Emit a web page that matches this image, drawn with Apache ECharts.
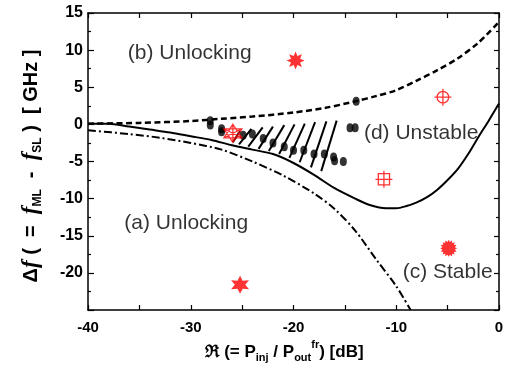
<!DOCTYPE html>
<html><head><meta charset="utf-8">
<script src="https://cdn.jsdelivr.net/npm/echarts@6/dist/echarts.min.js"></script>
<style>html,body{margin:0;padding:0;background:#fff}#c{width:509px;height:376px}</style>
</head><body><div id="c"></div>
<script>
// ---- data ----
const xTickValues = [-40, -30, -20, -10, 0];
const yTickValues = [-20, -15, -10, -5, 0, 5, 10, 15];

const dashedX = [-40, -35, -30, -27, -24, -20, -17, -14, -12, -10, -8, -6, -4, -2, 0];
const dashedY = [0.1, 0.2, 0.45, 0.75, 1.05, 1.6, 2.2, 3.1, 3.8, 4.6, 5.9, 7.3, 8.9, 11.0, 13.8];

const solidX = [-40, -38, -36, -34, -32, -30, -28, -26, -24, -22, -20, -18, -16, -14, -12.5, -11, -10, -9, -8, -7, -6, -5, -4, -3, -2, -1, 0];
const solidY = [0.1, 0.1, -0.3, -0.7, -1.1, -1.6, -2.1, -2.8, -3.4, -4.0, -5.2, -6.8, -8.6, -10.0, -10.9, -11.3, -11.3, -11.0, -10.5, -9.8, -8.8, -7.5, -6.0, -4.0, -1.7, 0.5, 2.8];

const dashDotX = [-40, -36, -33, -30, -27, -24, -21, -18, -16, -14, -12, -10, -8.6];
const dashDotY = [-0.8, -1.3, -1.8, -2.5, -3.4, -5.0, -6.9, -9.3, -11.4, -14.3, -18.1, -21.8, -25];

const dotX = [-28.1, -28.1, -27.0, -27.0, -24.9, -24.0, -22.95, -22.0, -20.9, -20.0, -19.0, -18.0, -17.0, -16.1, -16.0, -15.15, -14.5, -14.0, -13.9];
const dotY = [0.5, -0.1, -0.6, -1.0, -1.45, -1.3, -1.9, -2.5, -3.0, -3.5, -3.5, -4.0, -4.0, -4.4, -4.9, -5.0, -0.45, -0.45, 3.1];

const hatchBottomX = [-25.9, -25.3, -24.4, -23.4, -22.4, -21.4, -20.4, -19.4, -18.3, -17.3];
const hatchBottomY = [-2.4, -2.7, -3.0, -3.3, -3.6, -4.0, -4.5, -5.1, -5.8, -6.3];
const hatchTopX = [-25.2, -24.1, -23.0, -22.0, -20.9, -19.9, -18.9, -17.9, -16.8, -15.8];
const hatchTopY = [-0.9, -0.6, -0.4, -0.3, -0.1, 0.0, 0.1, 0.3, 0.4, 0.5];

const burstBigPoint = [-19.8, 8.6];
const starOutlinePoint = [-25.9, -1.2];
const starFilledPoint = [-25.2, -21.6];
const crossCirclePoint = [-5.46, 3.67];
const crossSquarePoint = [-11.2, -7.4];
const sunBurstPoint = [-4.9, -16.7];

const regionLabelText = ['(b) Unlocking', '(a) Unlocking', '(d) Unstable', '(c) Stable'];
const regionLabelX = [-30.1, -30.44, -7.58, -5.0];
const regionLabelY = [9.54, -13.3, -1.2, -19.85];

// ---- helpers ----
function zip(xs, ys) { return xs.map((x, i) => [x, ys[i]]); }
function starPath(n, inner) {
  let d = '';
  for (let i = 0; i < 2 * n; i++) {
    const r = (i % 2 === 0) ? 50 : 50 * inner;
    const a = -Math.PI / 2 + i * Math.PI / n;
    const x = (50 + r * Math.cos(a)).toFixed(2), y = (50 + r * Math.sin(a)).toFixed(2);
    d += (i === 0 ? 'M' : 'L') + x + ',' + y + ' ';
  }
  return 'path://' + d + 'Z';
}
const FONT = "'Liberation Sans', Arial, sans-serif";
const RED = '#ff0000';

const chart = echarts.init(document.getElementById('c'), null, { renderer: 'canvas' });

const axisCommon = {
  type: 'value',
  axisLine: { show: true, onZero: false, lineStyle: { color: '#000', width: 1.5 } },
  splitLine: { show: false },
  minorSplitLine: { show: false }
};

const option = {
  animation: false,
  backgroundColor: '#fff',
  grid: { left: 88, right: 10, top: 13, bottom: 66, containLabel: false },
  xAxis: [
    Object.assign({}, axisCommon, {
      min: -40, max: 0, interval: 10, position: 'bottom',
      axisTick: { show: true, inside: true, length: 5, lineStyle: { color: '#000', width: 1.2 } },
      minorTick: { show: true, splitNumber: 2, length: 5, lineStyle: { color: '#000', width: 1.2 } },
      axisLabel: {
        color: '#000', fontFamily: FONT, fontWeight: 'bold', fontSize: 15, margin: 10,
        formatter: v => (xTickValues.indexOf(v) >= 0 ? String(v) : '')
      },
      name: '{m|ℜ (= P}{sub|inj}{m| / P}{sub|out}{sup|fr}{m|) [dB]}',
      nameLocation: 'middle', nameGap: 29,
      nameTextStyle: {
        color: '#000', fontFamily: FONT, fontWeight: 'bold', fontSize: 17, padding: [0, 18, 0, 0],
        rich: {
          m: { fontFamily: FONT, fontWeight: 'bold', fontSize: 17, color: '#000', lineHeight: 24 },
          sub: { fontFamily: FONT, fontWeight: 'bold', fontSize: 11, color: '#000', verticalAlign: 'bottom', lineHeight: 13 },
          sup: { fontFamily: FONT, fontWeight: 'bold', fontSize: 11, color: '#000', verticalAlign: 'top', lineHeight: 13 }
        }
      }
    }),
    Object.assign({}, axisCommon, {
      min: -40, max: 0, interval: 10, position: 'top',
      axisTick: { show: true, inside: true, length: 5, lineStyle: { color: '#000', width: 1.2 } },
      minorTick: { show: true, splitNumber: 2, length: 5, lineStyle: { color: '#000', width: 1.2 } },
      axisLabel: { show: false }
    })
  ],
  yAxis: [
    Object.assign({}, axisCommon, {
      min: -25, max: 15, interval: 5, position: 'left',
      axisTick: { show: true, inside: true, length: 6, lineStyle: { color: '#000', width: 1.2 } },
      minorTick: { show: true, splitNumber: 2, length: 3, lineStyle: { color: '#000', width: 1.2 } },
      axisLabel: {
        color: '#000', fontFamily: FONT, fontWeight: 'bold', fontSize: 16, margin: 5,
        formatter: v => (yTickValues.indexOf(v) >= 0 ? String(v) : '')
      },
      name: '{d|Δ}{f|f}{m| (  =  }{f|f}{sub|ML}{m|  -  }{f|f}{sub|SL}{m| )  [ GHz ]}',
      nameLocation: 'middle', nameGap: 44, nameRotate: 90,
      nameTextStyle: {
        color: '#000', fontFamily: FONT, fontWeight: 'bold', fontSize: 20, padding: [0, 9, 0, 0],
        rich: {
          d: { fontFamily: FONT, fontWeight: 'bold', fontSize: 20, color: '#000', lineHeight: 26 },
          m: { fontFamily: FONT, fontWeight: 'bold', fontSize: 20, color: '#000', lineHeight: 26 },
          f: { fontFamily: "'Liberation Serif', serif", fontStyle: 'italic', fontWeight: 'bold', fontSize: 23, color: '#000', lineHeight: 26 },
          sub: { fontFamily: FONT, fontWeight: 'bold', fontSize: 12, color: '#000', verticalAlign: 'bottom', lineHeight: 14 }
        }
      }
    }),
    Object.assign({}, axisCommon, {
      min: -25, max: 15, interval: 5, position: 'right',
      axisTick: { show: true, inside: true, length: 5, lineStyle: { color: '#000', width: 1.2 } },
      minorTick: { show: true, splitNumber: 2, length: 3, lineStyle: { color: '#000', width: 1.2 } },
      axisLabel: { show: false }
    })
  ],
  series: [
    { type: 'line', data: zip(dashedX, dashedY), showSymbol: false, smooth: 0.3, z: 3,
      lineStyle: { color: '#000', width: 2.5, type: [6, 3.5] } },
    { type: 'line', data: zip(solidX, solidY), showSymbol: false, smooth: 0.3, z: 3,
      lineStyle: { color: '#000', width: 2 } },
    { type: 'line', data: zip(dashDotX, dashDotY), showSymbol: false, smooth: 0.3, z: 3,
      lineStyle: { color: '#000', width: 2, type: [8, 3, 2, 3] } },
    { type: 'lines', coordinateSystem: 'cartesian2d', z: 3,
      lineStyle: { color: '#000', width: 2, opacity: 1 },
      data: hatchBottomX.map((x, i) => ({ coords: [[x, hatchBottomY[i]], [hatchTopX[i], hatchTopY[i]]] })) },
    { type: 'scatter', data: zip(dotX, dotY), symbol: 'circle', symbolSize: [7, 9], z: 4,
      itemStyle: { color: '#000' } },
    { type: 'scatter', data: [burstBigPoint], symbol: starPath(8, 0.55), symbolSize: 18, z: 5,
      itemStyle: { color: RED } },
    { type: 'scatter', data: [starOutlinePoint],
      symbol: 'path://M50,0 L93.3,75 L6.7,75 Z M50,100 L93.3,25 L6.7,25 Z M50,0 L50,100 M6.7,25 L93.3,75 M6.7,75 L93.3,25',
      symbolSize: 18, z: 5, itemStyle: { color: 'transparent', borderColor: RED, borderWidth: 1.3 } },
    { type: 'scatter', data: [starFilledPoint], symbol: starPath(6, 0.5), symbolSize: 18, z: 5,
      itemStyle: { color: RED } },
    { type: 'scatter', data: [crossCirclePoint],
      symbol: 'path://M50,0 L50,100 M0,50 L100,50 M84,50 A34,34 0 1,1 16,50 A34,34 0 1,1 84,50 Z',
      symbolSize: 17, z: 5, itemStyle: { color: 'transparent', borderColor: RED, borderWidth: 1.3 } },
    { type: 'scatter', data: [crossSquarePoint],
      symbol: 'path://M50,0 L50,100 M0,50 L100,50 M17,17 L83,17 L83,83 L17,83 Z',
      symbolSize: 17, z: 5, itemStyle: { color: 'transparent', borderColor: RED, borderWidth: 1.3 } },
    { type: 'scatter', data: [sunBurstPoint], symbol: starPath(16, 0.75), symbolSize: 17, z: 5,
      itemStyle: { color: RED } },
    { type: 'scatter', symbol: 'circle', symbolSize: 0, z: 6,
      data: regionLabelText.map((t, i) => ({ value: [regionLabelX[i], regionLabelY[i]], name: t })),
      label: { show: true, position: 'inside', formatter: p => p.name,
        color: '#000', fontFamily: FONT, fontSize: 21 },
      itemStyle: { color: 'transparent' } }
  ]
};
chart.setOption(option);
</script>
</body></html>
